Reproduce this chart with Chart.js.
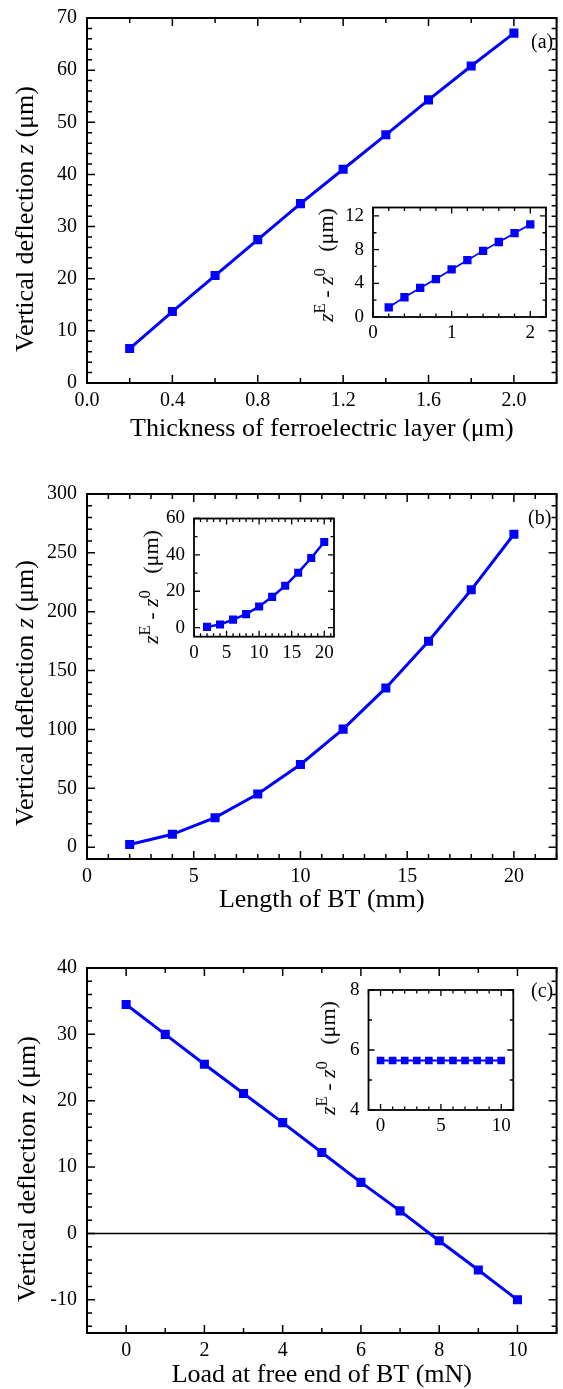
<!DOCTYPE html>
<html>
<head>
<meta charset="utf-8">
<title>Vertical deflection</title>
<script src="https://cdn.jsdelivr.net/npm/chart.js@4.4.1/dist/chart.umd.min.js"></script>
<style>
  body { margin: 0; background: #fff; }
  #page { position: relative; width: 563px; height: 1389px; overflow: hidden;
          font-family: "Liberation Serif", "Times New Roman", serif; color: #000; }
  canvas { position: absolute; }
  .ytitle { position: absolute; white-space: nowrap; line-height: 1;
            transform: translate(-50%, -50%) rotate(-90deg); }
  .ytitle sup { font-size: 0.75em; position: relative; top: -0.5em; vertical-align: baseline; line-height: 0; }
  .tag { position: absolute; font-size: 20px; line-height: 1; }
</style>
</head>
<body>
<div id="page">
  <canvas id="mainA" width="563" height="460" style="left:0;top:0"></canvas>
  <canvas id="mainB" width="563" height="460" style="left:0;top:460px"></canvas>
  <canvas id="mainC" width="563" height="469" style="left:0;top:920px"></canvas>
  <canvas id="insetA" width="260" height="170" style="left:300px;top:190px"></canvas>
  <canvas id="insetB" width="230" height="170" style="left:120px;top:500px"></canvas>
  <canvas id="insetC" width="230" height="170" style="left:300px;top:975px"></canvas>

  <div class="ytitle" style="left:25px;top:219px;font-size:26px">Vertical deflection <i>z</i> (&mu;m)</div>
  <div class="ytitle" style="left:25px;top:693px;font-size:26px">Vertical deflection <i>z</i> (&mu;m)</div>
  <div class="ytitle" style="left:27px;top:1169px;font-size:26px">Vertical deflection <i>z</i> (&mu;m)</div>

  <div class="ytitle" style="left:326px;top:265px;font-size:22px"><i>z</i><sup>E</sup>&nbsp;-&nbsp;<i>z</i><sup>0</sup>&nbsp;&nbsp;&nbsp;(&mu;m)</div>
  <div class="ytitle" style="left:151px;top:587px;font-size:22px"><i>z</i><sup>E</sup>&nbsp;-&nbsp;<i>z</i><sup>0</sup>&nbsp;&nbsp;&nbsp;(&mu;m)</div>
  <div class="ytitle" style="left:328px;top:1058px;font-size:22px"><i>z</i><sup>E</sup>&nbsp;-&nbsp;<i>z</i><sup>0</sup>&nbsp;&nbsp;&nbsp;(&mu;m)</div>

  <div class="tag" style="left:531px;top:31px">(a)</div>
  <div class="tag" style="left:528px;top:507px">(b)</div>
  <div class="tag" style="left:531px;top:980px">(c)</div>
</div>

<script>
// (a) thickness of the ferroelectric layer
const thickUm = [0.2, 0.4, 0.6, 0.8, 1.0, 1.2, 1.4, 1.6, 1.8, 2.0];
const zThick = [6.6, 13.7, 20.6, 27.5, 34.4, 41.0, 47.6, 54.3, 60.8, 67.1];
const dzThick = [1.15, 2.35, 3.45, 4.5, 5.65, 6.75, 7.85, 8.9, 9.95, 11.0];

// (b) length of BT
const lengthMm = [2, 4, 6, 8, 10, 12, 14, 16, 18, 20];
const zLength = [2.3, 11.0, 25.1, 45.2, 70.3, 100.3, 135.3, 174.9, 218.6, 265.8];
const dzLength = [0.4, 1.7, 4.4, 7.4, 11.6, 16.9, 23.0, 30.2, 38.3, 47.1];

// (c) load at free end
const loadMN = [0, 1, 2, 3, 4, 5, 6, 7, 8, 9, 10];
const zLoad = [34.5, 30.0, 25.5, 21.1, 16.7, 12.2, 7.7, 3.4, -1.1, -5.5, -10.0];
const dzLoad = [5.65, 5.65, 5.65, 5.65, 5.65, 5.65, 5.65, 5.65, 5.65, 5.65, 5.65];

// tick labels
const aXTicks = [0, 0.4, 0.8, 1.2, 1.6, 2.0];
const aYTicks = [0, 10, 20, 30, 40, 50, 60, 70];
const aInXTicks = [0, 1, 2];
const aInYTicks = [0, 4, 8, 12];
const bXTicks = [0, 5, 10, 15, 20];
const bYTicks = [0, 50, 100, 150, 200, 250, 300];
const bInXTicks = [0, 5, 10, 15, 20];
const bInYTicks = [0, 20, 40, 60];
const cXTicks = [0, 2, 4, 6, 8, 10];
const cYTicks = [-10, 0, 10, 20, 30, 40];
const cInXTicks = [0, 5, 10];
const cInYTicks = [4, 6, 8];

const BLUE = '#0000ff';
Chart.defaults.font.family = '"Liberation Serif", "Times New Roman", serif';
Chart.defaults.color = '#000';

// frame box with inward ticks on all four sides, plus optional zero line
const frameTicks = {
    id: 'frameTicks',
    beforeDatasetsDraw(chart, args, o) {
        if (o.zeroLine === undefined || o.zeroLine === null) return;
        const {ctx, chartArea: a, scales: {y}} = chart;
        const py = y.getPixelForValue(o.zeroLine);
        ctx.save();
        ctx.strokeStyle = '#000';
        ctx.lineWidth = 1.5;
        ctx.beginPath();
        ctx.moveTo(a.left, py);
        ctx.lineTo(a.right, py);
        ctx.stroke();
        ctx.restore();
    },
    afterDatasetsDraw(chart, args, o) {
        const {ctx, chartArea: a, scales: {x, y}} = chart;
        const marks = (scale, step) => {
            const major = scale.ticks.map(t => t.value);
            const out = [];
            const i0 = Math.ceil(scale.min / step - 1e-6);
            const i1 = Math.floor(scale.max / step + 1e-6);
            for (let i = i0; i <= i1; i++) {
                const v = i * step;
                const isMajor = major.some(m => Math.abs(m - v) < step / 100);
                out.push([scale.getPixelForValue(v), isMajor ? o.major : o.minor]);
            }
            return out;
        };
        ctx.save();
        ctx.strokeStyle = '#000';
        ctx.lineWidth = o.tickWidth;
        ctx.beginPath();
        marks(x, o.xMinor).forEach(([p, len]) => {
            ctx.moveTo(p, a.bottom); ctx.lineTo(p, a.bottom - len);
            ctx.moveTo(p, a.top); ctx.lineTo(p, a.top + len);
        });
        marks(y, o.yMinor).forEach(([p, len]) => {
            ctx.moveTo(a.left, p); ctx.lineTo(a.left + len, p);
            ctx.moveTo(a.right, p); ctx.lineTo(a.right - len, p);
        });
        ctx.stroke();
        ctx.lineWidth = o.frameWidth;
        ctx.strokeRect(a.left, a.top, a.right - a.left, a.bottom - a.top);
        ctx.restore();
    }
};

function plot(id, c) {
    return new Chart(document.getElementById(id), {
        type: 'line',
        data: {
            datasets: [{
                data: c.xs.map((v, i) => ({x: v, y: c.ys[i]})),
                borderColor: BLUE,
                backgroundColor: BLUE,
                borderWidth: c.lineWidth,
                pointStyle: 'rect',
                pointRadius: c.pointRadius,
                pointBorderWidth: 0,
                pointBackgroundColor: BLUE,
                tension: 0
            }]
        },
        options: {
            responsive: false,
            animation: false,
            devicePixelRatio: 1,
            layout: { padding: { top: c.padTop, right: c.padRight, left: 0, bottom: 0 } },
            plugins: {
                legend: { display: false },
                tooltip: { enabled: false },
                frameTicks: {
                    xMinor: c.xMinor, yMinor: c.yMinor,
                    major: c.major, minor: c.minor,
                    tickWidth: c.tickWidth, frameWidth: c.frameWidth,
                    zeroLine: c.zeroLine
                }
            },
            scales: {
                x: {
                    type: 'linear',
                    min: c.xMin, max: c.xMax,
                    grid: { display: false, drawTicks: false },
                    border: { display: false },
                    afterBuildTicks: s => { s.ticks = c.xTicks.map(v => ({value: v})); },
                    ticks: {
                        autoSkip: false, maxRotation: 0, padding: c.xPad,
                        font: { size: c.tickSize },
                        callback: c.xFmt || (v => String(v))
                    },
                    title: {
                        display: !!c.xTitle, text: c.xTitle || '',
                        font: { size: 26 },
                        padding: { top: 0, bottom: c.titlePad || 0 }
                    },
                    afterFit: s => {
                        s.height = c.xH;
                        s.paddingLeft = 0; s.paddingRight = 0;
                        s.paddingTop = 0; s.paddingBottom = 0;
                    }
                },
                y: {
                    type: 'linear',
                    min: c.yMin, max: c.yMax,
                    grid: { display: false, drawTicks: false },
                    border: { display: false },
                    afterBuildTicks: s => { s.ticks = c.yTicks.map(v => ({value: v})); },
                    ticks: {
                        autoSkip: false, padding: c.yPad,
                        font: { size: c.tickSize },
                        callback: v => String(v)
                    },
                    afterFit: s => {
                        s.width = c.yW;
                        s.paddingTop = 0; s.paddingBottom = 0;
                    }
                }
            }
        },
        plugins: [frameTicks]
    });
}

const mainStyle = { lineWidth: 3, pointRadius: 6.4, major: 8, minor: 5, tickWidth: 1.5,
                    frameWidth: 2, tickSize: 20, xPad: 6, yPad: 10, padRight: 1, yW: 87 };
const insetStyle = { major: 6, minor: 3.5, tickWidth: 1.3, frameWidth: 1.8, tickSize: 19,
                     xPad: 5, yPad: 9 };

plot('mainA', Object.assign({}, mainStyle, {
    xs: thickUm, ys: zThick, xMin: 0, xMax: 2.2, yMin: 0, yMax: 70,
    xTicks: aXTicks, yTicks: aYTicks, xMinor: 0.2, yMinor: 2,
    xFmt: v => v.toFixed(1),
    xTitle: 'Thickness of ferroelectric layer (\u03bcm)', titlePad: 15,
    padTop: 18, xH: 77
}));

plot('mainB', Object.assign({}, mainStyle, {
    xs: lengthMm, ys: zLength, xMin: 0, xMax: 22, yMin: -10, yMax: 300,
    xTicks: bXTicks, yTicks: bYTicks, xMinor: 1, yMinor: 10,
    xTitle: 'Length of BT (mm)', titlePad: 4.5,
    padTop: 34, xH: 61
}));

plot('mainC', Object.assign({}, mainStyle, {
    xs: loadMN, ys: zLoad, xMin: -1, xMax: 11, yMin: -15, yMax: 40,
    xTicks: cXTicks, yTicks: cYTicks, xMinor: 1, yMinor: 2,
    xTitle: 'Load at free end of BT (mN)', titlePad: -1.3,
    padTop: 48, xH: 56, zeroLine: 0
}));

plot('insetA', Object.assign({}, insetStyle, {
    xs: thickUm, ys: dzThick, xMin: 0, xMax: 2.2, yMin: 0, yMax: 13,
    xTicks: aInXTicks, yTicks: aInYTicks, xMinor: 0.2, yMinor: 2,
    lineWidth: 1.7, pointRadius: 5.9,
    padTop: 17.5, padRight: 14, yW: 73, xH: 43
}));

plot('insetB', Object.assign({}, insetStyle, {
    xs: lengthMm, ys: dzLength, xMin: 0, xMax: 21.5, yMin: -5, yMax: 60,
    xTicks: bInXTicks, yTicks: bInYTicks, xMinor: 1, yMinor: 10,
    lineWidth: 2.5, pointRadius: 5.7,
    padTop: 18.5, padRight: 16, yW: 74, xH: 33.3
}));

plot('insetC', Object.assign({}, insetStyle, {
    xs: loadMN, ys: dzLoad, xMin: -1, xMax: 11, yMin: 4, yMax: 8,
    xTicks: cInXTicks, yTicks: cInYTicks, xMinor: 1, yMinor: 1,
    lineWidth: 2, pointRadius: 5.4,
    padTop: 15, padRight: 16.7, yW: 68.5, xH: 35
}));
</script>
</body>
</html>
